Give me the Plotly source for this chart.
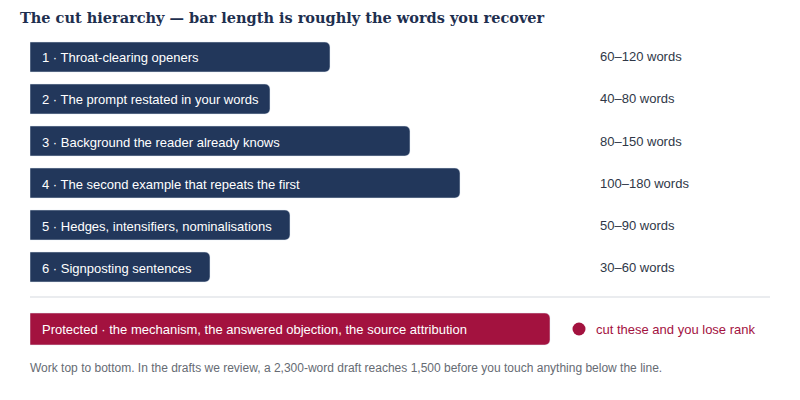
import plotly.graph_objects as go

# ---- data ----
ranks = ["r1", "r2", "r3", "r4", "r5", "r6"]
cut_labels = [
    "1 · Throat-clearing openers",
    "2 · The prompt restated in your words",
    "3 · Background the reader already knows",
    "4 · The second example that repeats the first",
    "5 · Hedges, intensifiers, nominalisations",
    "6 · Signposting sentences",
]
recovered = [120, 96, 152, 172, 104, 72]          # bar length (approx. words recovered)
word_ranges = ["60–120 words", "40–80 words", "80–150 words",
               "100–180 words", "50–90 words", "30–60 words"]
protected_label = ["Protected · the mechanism, the answered objection, the source attribution"]
protected_extent = [208]
legend_text = "cut these and you lose rank"
title_text = "The cut hierarchy — bar length is roughly the words you recover"
footnote = ("Work top to bottom. In the drafts we review, a 2,300-word draft reaches 1,500 "
            "before you touch anything below the line.")

NAVY = "#22375b"
CRIMSON = "#a3123f"
W, H = 800, 400
L, R = 30, 30
XMAX = 296

def py(px):  # pixel row -> paper y
    return 1 - px / H

fig = go.Figure()
fig.add_trace(go.Bar(
    y=ranks, x=recovered, orientation="h", marker=dict(color=NAVY, cornerradius=5),
    width=30 / 42, xaxis="x", yaxis="y", hoverinfo="skip", showlegend=False,
))
fig.add_trace(go.Bar(
    y=["P"], x=protected_extent, orientation="h", marker=dict(color=CRIMSON, cornerradius=5),
    width=32 / 42, xaxis="x", yaxis="y2", hoverinfo="skip", showlegend=False,
))
fig.add_trace(go.Scatter(
    y=["P"], x=[(579 - L) / 740 * XMAX], mode="markers",
    marker=dict(color=CRIMSON, size=13), xaxis="x", yaxis="y2",
    hoverinfo="skip", showlegend=False,
))

FONT = "Liberation Sans, Arial"
ann = []
for r, lab, rng in zip(ranks, cut_labels, word_ranges):
    ann.append(dict(x=0, y=r, xref="x", yref="y", text=lab, showarrow=False,
                    xanchor="left", xshift=10, yshift=-1,
                    font=dict(color="white", size=13, family=FONT)))
    ann.append(dict(x=(600 - L) / 740, y=r, xref="paper", yref="y", text=rng,
                    showarrow=False, xanchor="left", xshift=-2, yshift=0,
                    font=dict(color="#2f3747", size=13, family=FONT)))
ann.append(dict(x=0, y="P", xref="x", yref="y2", text=protected_label[0], showarrow=False,
                xanchor="left", xshift=10, font=dict(color="white", size=13, family=FONT)))
ann.append(dict(x=(596 - L) / 740, y="P", xref="paper", yref="y2", text=legend_text,
                showarrow=False, xanchor="left", xshift=-2,
                font=dict(color=CRIMSON, size=13, family=FONT)))
ann.append(dict(x=0, y=py(367), xref="paper", yref="paper", text=footnote, showarrow=False,
                xanchor="left", yanchor="middle", xshift=-2, yshift=-1,
                font=dict(color="#666b73", size=12, family=FONT)))

fig.update_layout(
    width=W, height=H, margin=dict(l=L, r=R, t=0, b=0, autoexpand=False),
    paper_bgcolor="white", plot_bgcolor="white",
    title=dict(text="<b>" + title_text + "</b>", x=20 / W, xanchor="left",
               y=py(18), yanchor="middle",
               font=dict(family="DejaVu Serif, Georgia, serif", size=14.5, color="#1e2f4f")),
    xaxis=dict(range=[0, XMAX], visible=False, fixedrange=True),
    yaxis=dict(type="category", domain=[py(288), py(36)], categoryorder="array",
               categoryarray=ranks[::-1], range=[-0.5, 5.5], visible=False, fixedrange=True),
    yaxis2=dict(type="category", domain=[py(350), py(308)], visible=False, anchor="x",
                fixedrange=True),
    annotations=ann,
    shapes=[dict(type="line", xref="paper", yref="paper", x0=0, x1=1,
                 y0=py(297), y1=py(297), line=dict(color="#e3e6ea", width=1.5))],
)
fig.write_html("out.html", config={"displayModeBar": False},
               post_script="document.body.style.margin='0';")
